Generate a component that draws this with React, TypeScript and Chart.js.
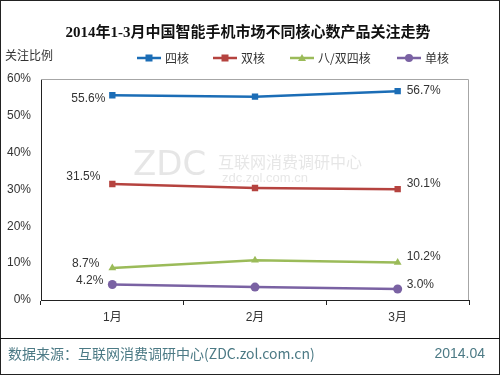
import React, { useEffect, useRef } from "react";
import { Chart, registerables } from "chart.js";

Chart.register(...registerables);

const title = "2014年1-3月中国智能手机市场不同核心数产品关注走势";
const yAxisTitle = "关注比例";
const categories = ["1月", "2月", "3月"];
const seriesNames = ["四核", "双核", "八/双四核", "单核"];
const quadCore = [55.6, 55.2, 56.7];
const dualCore = [31.5, 30.4, 30.1];
const octaCore = [8.7, 10.8, 10.2];
const singleCore = [4.2, 3.5, 3.0];
const yTicks = [0, 10, 20, 30, 40, 50, 60];
const sourceText = "数据来源：互联网消费调研中心(ZDC.zol.com.cn)";
const dateText = "2014.04";

const colors = ["#1b6db6", "#b5433f", "#9bbb59", "#7a62a3"];
const pointStyles = ["rect", "rect", "triangle", "circle"];
// label offsets [first dx, first dy, last dx, last dy]
const labelOffsets = [
  [-7, 3, 9, 0],
  [-12, -7, 9, -5],
  [-13, -4, 9, -6],
  [-9, -4, 9, -4],
];

const CJK = "'Noto Sans CJK SC', sans-serif";
const LATIN = "'Liberation Sans', 'Noto Sans CJK SC', sans-serif";

const decorPlugin = {
  id: "decor",
  beforeDatasetsDraw(chart: any) {
    const ctx = chart.ctx;
    const a = chart.chartArea;
    ctx.save();
    // watermark
    ctx.fillStyle = "rgba(200,200,200,0.45)";
    ctx.textBaseline = "middle";
    ctx.textAlign = "left";
    ctx.font = "34px 'DejaVu Sans', sans-serif";
    ctx.fillText("ZDC", 133, 166);
    ctx.font = "16px " + CJK;
    ctx.fillText("互联网消费调研中心", 218, 162);
    ctx.font = "13px " + LATIN;
    ctx.fillText("zdc.zol.com.cn", 222, 178);
    // gray top and right border
    ctx.strokeStyle = "#a6a6a6";
    ctx.lineWidth = 1;
    ctx.beginPath();
    ctx.moveTo(a.left, a.top + 0.5);
    ctx.lineTo(a.right - 0.5, a.top + 0.5);
    ctx.lineTo(a.right - 0.5, a.bottom);
    ctx.stroke();
    ctx.restore();
  },
  afterDraw(chart: any) {
    const ctx = chart.ctx;
    ctx.save();
    // outer border
    ctx.strokeStyle = "#222";
    ctx.lineWidth = 1;
    ctx.strokeRect(0.5, 0.5, 499, 374);
    // title
    ctx.fillStyle = "#111";
    ctx.textAlign = "center";
    ctx.textBaseline = "middle";
    ctx.font = "bold 15px 'Liberation Serif', 'Noto Sans CJK SC', serif";
    ctx.fillText(title, 248, 33);
    // y title
    ctx.font = "12px " + CJK;
    ctx.fillStyle = "#333";
    ctx.textAlign = "left";
    ctx.fillText(yAxisTitle, 5, 55);
    // legend
    const legendX = [137, 213, 290, 397];
    chart.data.datasets.forEach((ds: any, i: number) => {
      const x = legendX[i];
      const y = 58;
      ctx.strokeStyle = ds.borderColor;
      ctx.lineWidth = 2.5;
      ctx.beginPath();
      ctx.moveTo(x, y);
      ctx.lineTo(x + 24, y);
      ctx.stroke();
      ctx.fillStyle = ds.borderColor;
      const cx = x + 12;
      if (ds.pointStyle === "rect") {
        ctx.fillRect(cx - 3.5, y - 3.5, 7, 7);
      } else if (ds.pointStyle === "triangle") {
        ctx.beginPath();
        ctx.moveTo(cx, y - 4);
        ctx.lineTo(cx + 4, y + 3);
        ctx.lineTo(cx - 4, y + 3);
        ctx.closePath();
        ctx.fill();
      } else {
        ctx.beginPath();
        ctx.arc(cx, y, 4, 0, Math.PI * 2);
        ctx.fill();
      }
      ctx.fillStyle = "#333";
      ctx.font = "12px " + CJK;
      ctx.textAlign = "left";
      ctx.fillText(ds.label, x + 28, y);
    });
    // data labels
    ctx.font = "12px " + LATIN;
    ctx.fillStyle = "#333";
    chart.data.datasets.forEach((ds: any, i: number) => {
      const meta = chart.getDatasetMeta(i);
      const n = ds.data.length;
      const first = meta.data[0];
      const last = meta.data[n - 1];
      const off = labelOffsets[i];
      ctx.textAlign = "right";
      ctx.fillText(ds.data[0].toFixed(1) + "%", first.x + off[0], first.y + off[1]);
      ctx.textAlign = "left";
      ctx.fillText(ds.data[n - 1].toFixed(1) + "%", last.x + off[2], last.y + off[3]);
    });
    // footer
    ctx.strokeStyle = "#111";
    ctx.lineWidth = 1;
    ctx.beginPath();
    ctx.moveTo(0, 338.5);
    ctx.lineTo(500, 338.5);
    ctx.stroke();
    ctx.fillStyle = "#4c7a85";
    ctx.font = "14px " + CJK;
    ctx.textAlign = "left";
    ctx.fillText(sourceText, 8, 354);
    ctx.font = "14px " + LATIN;
    ctx.textAlign = "right";
    ctx.fillText(dateText, 485, 354);
    ctx.restore();
  },
};

export default function App() {
  const ref = useRef<HTMLCanvasElement>(null);
  useEffect(() => {
    document.body.style.margin = "0";
    const seriesData = [quadCore, dualCore, octaCore, singleCore];
    const chart = new Chart(ref.current!, {
      type: "line",
      data: {
        labels: categories,
        datasets: seriesData.map((d, i) => ({
          label: seriesNames[i],
          data: d,
          borderColor: colors[i],
          backgroundColor: colors[i],
          borderWidth: 2.5,
          pointStyle: pointStyles[i] as any,
          pointRadius: 4.5,
          pointBorderWidth: 0,
          tension: 0,
        })),
      },
      options: {
        animation: false,
        responsive: false,
        layout: { padding: { left: 0, right: 31, top: 79, bottom: 45 } },
        plugins: {
          legend: { display: false },
          title: { display: false },
          tooltip: { enabled: false },
        },
        scales: {
          x: {
            offset: true,
            grid: {
              display: true,
              drawOnChartArea: false,
              tickLength: 5,
              color: "#222",
              offset: true,
            },
            border: { color: "#222", width: 1 },
            ticks: {
              color: "#333",
              font: { size: 12, family: LATIN },
              padding: 5,
            },
            afterFit: (s: any) => {
              s.height = 30;
            },
          },
          y: {
            min: 0,
            max: 60,
            afterBuildTicks: (s: any) => {
              s.ticks = yTicks.map((v) => ({ value: v }));
            },
            grid: { display: false },
            border: { color: "#222", width: 1 },
            ticks: {
              color: "#333",
              font: { size: 12, family: LATIN },
              padding: 2,
              callback: (v: any) => v + "%",
            },
            afterFit: (s: any) => {
              s.width = 41;
            },
          },
        },
      },
      plugins: [decorPlugin],
    });
    return () => chart.destroy();
  }, []);
  return (
    <div style={{ width: 500, height: 375 }}>
      <canvas ref={ref} width={500} height={375} style={{ display: "block" }} />
    </div>
  );
}
